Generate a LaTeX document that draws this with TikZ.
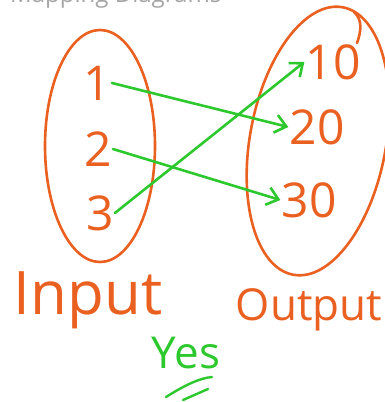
\documentclass[tikz,border=0pt]{standalone}
\usepackage{fontspec}
\setmainfont{Open Sans}
\usetikzlibrary{arrows.meta}
\definecolor{pen}{RGB}{234,96,32}
\definecolor{grn}{RGB}{45,200,45}
\definecolor{ttl}{RGB}{165,165,165}
\begin{document}
\begin{tikzpicture}[x=1pt,y=-1pt,
  ink/.style={draw=pen,line width=2.6pt,line cap=round},
  num/.style={text=pen,font=\fontsize{48}{48}\selectfont,inner sep=1pt},
  lbl/.style={text=pen,inner sep=0pt},
  map/.style={draw=grn,line width=2.6pt,line cap=round,-{Straight Barb[length=11pt,width=18pt,line width=2.6pt]}}]
\useasboundingbox (0,0) rectangle (385,402);
% cut-off title
\node[anchor=base west,text=ttl,font=\fontsize{24}{24}\selectfont,inner sep=0pt] (title) at (10,2) {Mapping Diagrams};
% ovals
\draw[ink] (100,146) ellipse [x radius=55, y radius=116];
\draw[ink,rotate around={-10.5:(318,141)}] (318,141) ellipse [x radius=68, y radius=136];
\draw[ink] (354,12) .. controls (363,20) and (361,32) .. (357,43);
% domain
\node[num] (n1) at (97,83) {1};
\node[num] (n2) at (98,149) {2};
\node[num] (n3) at (100,213) {3};
% range
\node[num] (n10) at (333,62) {10};
\node[num] (n20) at (317,127) {20};
\node[num] (n30) at (309,200) {30};
% mappings
\draw[map] (n1.east) -- (n20.west);
\draw[map] (n2.east) -- (n30.west);
\draw[map] (n3.east) -- (n10.west);
% labels
\node[lbl,font=\fontsize{60}{60}\selectfont,anchor=base] (inp) at (88,314) {Input};
\node[lbl,font=\fontsize{44}{44}\selectfont,anchor=base] (outp) at (309,320) {Output};
\node[text=grn,font=\fontsize{44}{44}\selectfont,anchor=base,inner sep=0pt] (yes) at (186,368) {Yes};
\draw[grn,line width=2.4pt,line cap=round] (166,397) .. controls (185,385) and (200,378) .. (212,377);
\draw[grn,line width=2.4pt,line cap=round] (183,400) -- (208,389);
\end{tikzpicture}
\end{document}
